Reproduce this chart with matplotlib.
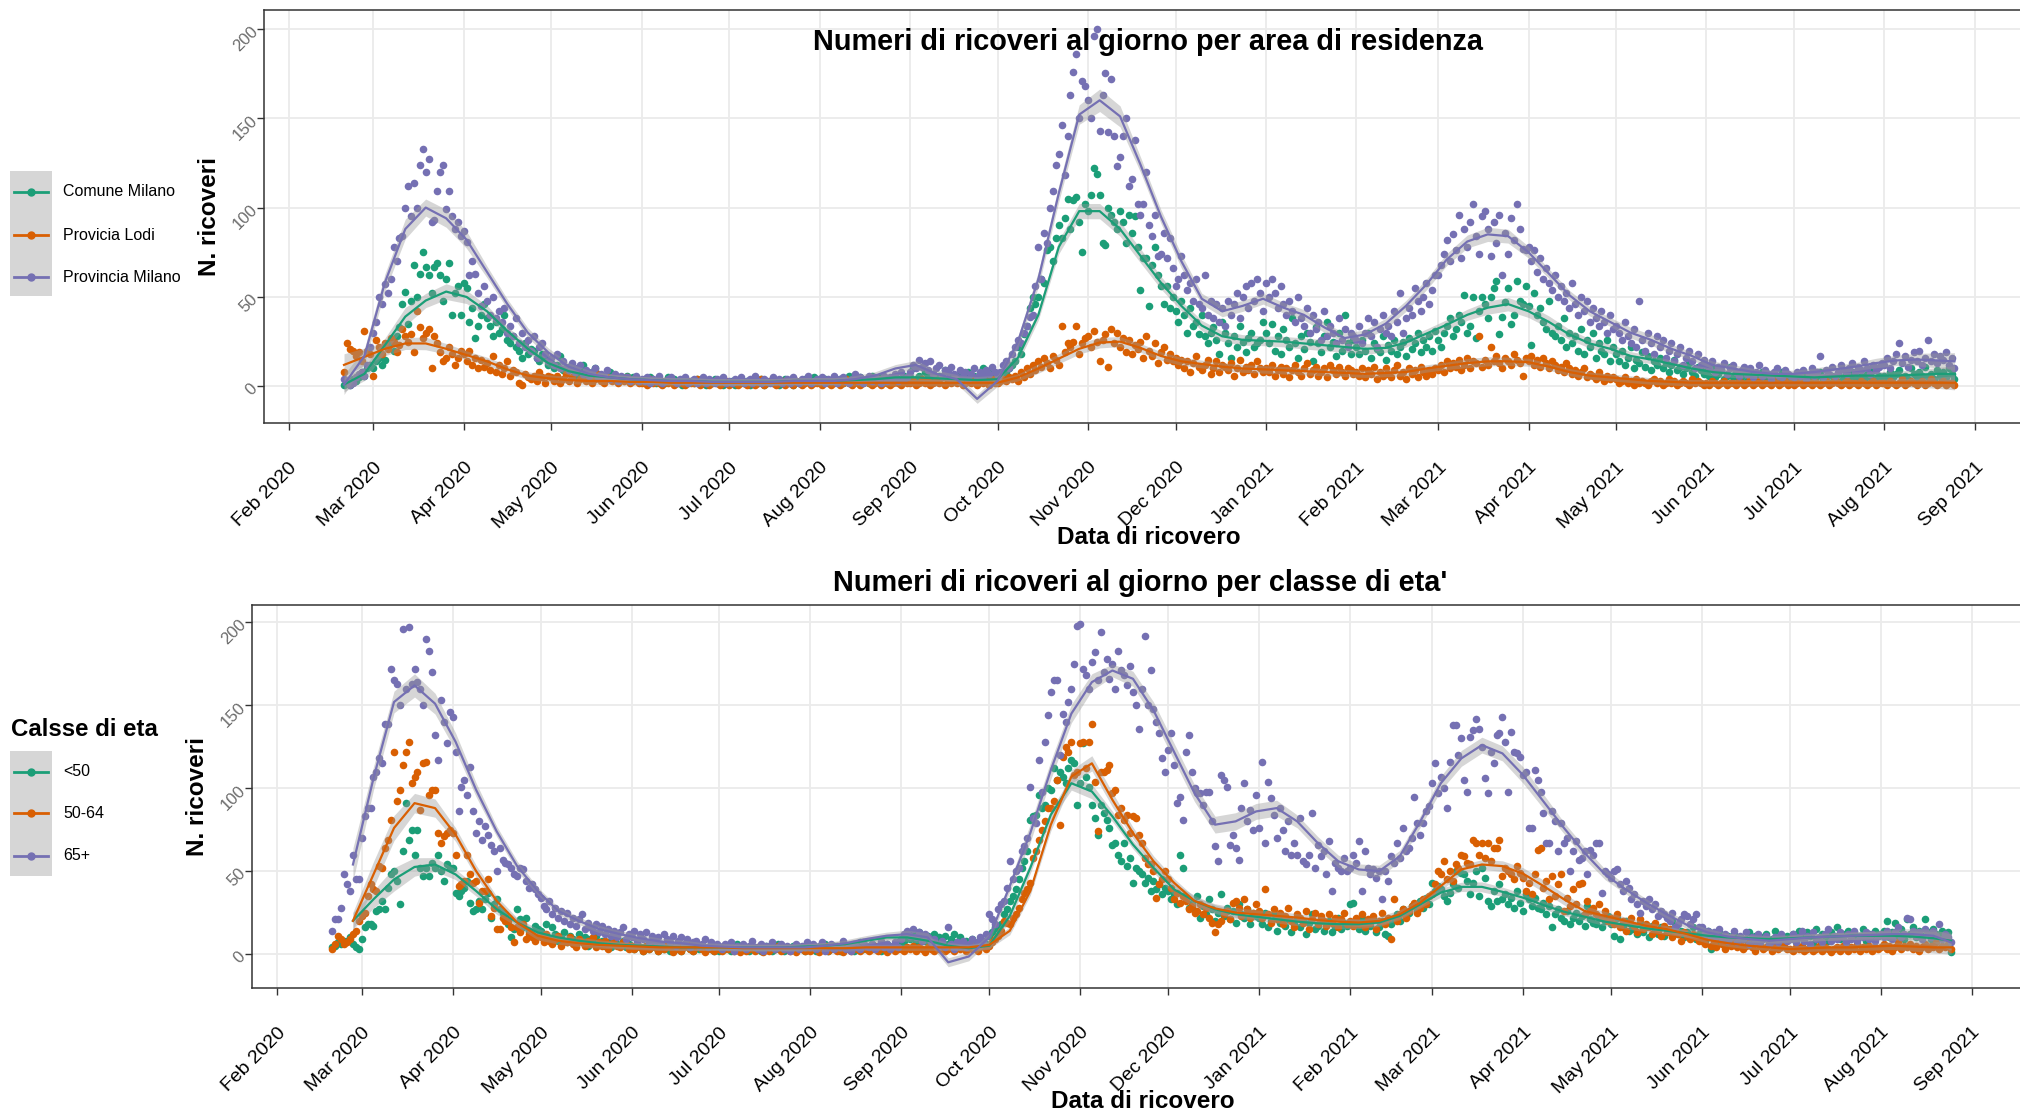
import numpy as np
import pandas as pd
import matplotlib
matplotlib.use('Agg')
import matplotlib.pyplot as plt
import matplotlib.dates as mdates
from matplotlib.patches import Rectangle

plt.rcParams['font.family'] = ['Liberation Sans', 'DejaVu Sans']

# daily counts, one block per month (first block starts 2020-02-20, last ends 2021-08-25)
area_labels = ['Comune Milano', 'Provicia Lodi', 'Provincia Milano']
age_labels = ['<50', '50-64', '65+']
colors = ['#1B9E77', '#D95F02', '#7570B3']

comune_milano = """1 2 1 4 3 5 8 6 10 12 |
10 14 16 12 15 22 25 20 28 33 46 53 35 48 68 50 63 75 67 62 52 67 69 62 48 60 69 40 52 56 40 |
58 55 36 44 27 34 40 46 38 34 28 36 30 32 40 26 24 28 22 20 16 24 18 21 20 16 14 18 16 12 |
13 10 12 17 9 8 11 10 7 6 9 12 6 5 8 10 7 6 4 5 8 6 4 3 5 4 6 3 5 4 3 |
3 4 2 5 3 2 4 3 2 5 3 4 2 3 1 4 2 3 2 4 3 2 1 3 2 4 2 3 1 2 |
2 3 1 2 4 2 3 1 2 3 2 4 1 2 3 2 3 1 2 4 3 2 1 3 2 2 4 3 2 5 3 |
3 2 4 3 2 5 3 4 2 3 6 4 3 2 5 3 4 2 6 3 4 5 3 2 4 3 5 4 3 6 4 |
5 10 4 6 3 8 5 4 7 3 6 5 9 4 6 5 3 7 6 4 8 5 6 4 7 10 6 8 5 7 |
4 6 5 8 10 12 14 22 18 29 34 44 50 46 50 60 58 76 78 70 83 90 83 94 105 88 104 106 92 75 102 |
98 107 122 119 107 80 79 100 96 92 88 98 92 80 96 86 95 78 54 72 72 45 68 78 62 56 46 56 44 50 |
42 36 48 40 30 44 34 36 29 40 28 24 30 33 26 18 36 30 24 16 28 22 34 25 19 27 30 22 24 26 36 |
30 24 35 20 28 18 32 26 22 38 24 16 28 21 30 25 14 33 24 19 28 36 22 25 17 30 20 40 24 18 26 |
22 18 26 20 30 16 24 21 19 28 15 23 20 26 18 22 25 17 27 21 24 30 19 26 22 28 20 31 |
26 22 30 34 38 28 32 40 36 51 30 34 50 27 42 50 46 38 50 55 59 29 39 47 55 35 40 59 48 46 56 |
45 23 52 40 44 36 32 48 30 28 34 26 38 22 30 24 28 20 32 18 26 22 30 16 24 20 18 26 14 22 |
18 14 20 12 16 22 10 15 13 19 11 17 9 14 12 16 10 13 8 12 15 9 11 7 10 13 8 6 11 9 7 |
8 6 10 5 7 9 4 6 11 5 8 4 6 7 3 9 5 6 4 8 5 7 3 6 4 5 8 4 6 3 |
4 6 3 5 7 4 5 3 6 8 4 5 2 6 4 7 3 5 6 4 8 5 3 6 4 7 5 9 4 6 5 |
6 4 8 5 7 9 5 6 4 10 7 5 8 6 11 5 7 4 9 6 8 5 10 7 4"""

provicia_lodi = """8 24 21 20 17 19 14 31 20 18 |
6 26 22 18 24 21 27 25 19 23 32 28 25 29 19 42 33 27 30 32 10 28 24 19 14 16 22 18 12 16 20 |
18 14 20 12 16 10 15 11 13 9 17 8 12 7 10 14 6 9 8 2 1 7 5 4 6 3 8 5 2 6 |
5 3 6 2 4 7 3 5 8 2 4 6 3 5 2 4 7 3 2 5 4 3 6 2 4 3 5 2 3 4 2 |
2 3 1 4 2 3 2 1 3 2 4 1 2 3 2 1 3 2 2 4 1 2 3 1 2 3 2 1 2 3 |
1 2 3 1 2 2 1 3 2 1 2 4 1 2 3 2 1 2 3 1 2 2 1 3 2 1 2 3 1 2 2 |
2 1 3 2 1 2 3 1 2 4 2 1 3 2 1 2 3 2 1 2 4 1 3 2 1 2 3 2 1 3 2 |
2 3 1 2 4 2 3 1 2 3 2 5 1 3 2 4 2 3 1 2 3 2 4 1 3 2 3 1 4 2 |
2 3 4 3 5 4 6 3 8 5 10 7 12 9 14 11 16 13 10 17 15 12 34 19 24 22 25 34 18 24 27 |
28 22 31 25 14 26 29 11 32 24 30 22 27 19 26 18 23 21 25 16 28 20 17 24 13 19 22 15 18 14 |
16 12 15 10 14 8 13 17 11 9 12 15 7 10 14 8 12 11 9 13 6 10 15 8 11 9 12 7 14 10 8 |
10 8 12 6 9 11 7 10 5 9 12 8 6 10 13 7 9 11 6 8 10 5 12 9 7 11 8 6 10 9 7 |
8 6 10 5 9 7 11 4 8 6 10 7 5 9 12 6 8 4 10 7 9 5 11 8 6 9 7 10 |
9 12 8 14 10 13 11 15 9 12 16 10 14 13 28 11 15 12 22 14 17 13 10 16 14 12 18 15 13 6 16 |
14 17 12 15 11 16 13 10 14 12 9 11 8 13 10 7 9 6 8 10 5 7 6 4 8 5 3 6 4 5 |
4 2 3 5 2 3 1 4 2 3 2 1 3 4 2 3 1 2 4 2 3 1 2 3 2 1 4 2 3 2 1 |
2 1 3 2 1 2 3 1 2 2 1 3 2 1 2 4 1 2 3 1 2 2 1 3 2 1 2 3 1 2 |
1 2 3 1 2 2 1 3 2 1 2 3 1 2 4 2 1 2 3 1 2 2 1 3 2 1 2 3 1 2 2 |
2 1 3 2 1 2 4 1 2 3 2 1 2 3 1 2 4 2 1 2 3 1 2 2 1"""

provincia_milano = """4 3 1 2 5 7 8 6 12 22 |
30 36 50 46 57 52 60 78 70 83 84 100 112 95 114 100 124 133 120 127 92 93 109 120 124 99 109 95 88 92 84 |
87 81 62 70 63 52 45 56 48 40 50 38 42 36 44 30 34 28 38 24 30 22 26 20 28 16 22 24 18 14 |
16 12 18 10 14 11 9 13 8 10 12 7 9 6 8 10 5 7 6 9 4 5 7 3 6 4 5 3 4 6 3 |
4 3 5 2 4 3 6 2 3 4 5 3 2 4 3 5 2 3 4 2 3 5 2 4 3 2 4 3 5 2 |
3 2 4 3 5 2 3 4 2 6 3 2 4 3 2 5 3 4 2 3 4 2 5 3 2 4 3 6 2 3 4 |
3 5 2 4 3 6 2 4 5 3 2 4 7 3 5 2 4 6 3 5 4 2 6 3 5 4 7 3 8 4 5 |
8 12 10 15 11 13 9 14 7 10 12 6 9 8 11 7 5 9 6 8 4 7 10 5 8 6 9 7 11 8 |
6 8 12 14 10 18 22 26 24 30 34 39 40 56 78 60 86 80 100 109 124 130 146 118 140 163 176 186 150 171 168 |
160 150 196 200 143 163 175 142 172 140 123 128 140 150 112 116 138 102 96 102 120 90 84 96 73 74 86 72 83 66 |
56 60 73 62 54 58 48 60 46 44 62 40 48 38 46 36 44 34 48 40 46 52 38 50 56 44 58 48 60 52 42 |
58 50 60 52 44 56 46 40 48 42 36 50 38 34 44 30 40 32 36 26 42 28 34 30 24 38 26 32 22 30 28 |
26 34 24 30 38 28 36 22 32 40 30 34 28 42 36 52 30 38 44 40 55 48 42 50 58 46 54 62 |
62 68 74 82 70 85 76 96 72 88 78 92 102 84 74 95 98 88 73 92 80 96 62 86 74 94 82 102 88 77 76 |
78 70 76 64 72 60 66 58 54 62 50 56 48 52 44 58 46 40 50 42 48 36 44 38 34 42 36 30 40 32 |
34 30 26 36 28 24 32 22 48 26 20 30 24 18 28 22 26 16 20 24 14 18 22 12 16 20 14 10 18 12 15 |
12 10 14 8 11 9 13 7 10 12 8 6 9 11 7 10 5 8 12 6 9 7 4 8 10 6 5 9 7 6 |
5 8 6 9 4 7 10 6 8 17 5 9 7 11 6 8 12 9 7 10 13 8 11 9 14 10 7 12 9 11 13 |
12 16 10 14 18 24 13 17 11 15 19 14 20 12 16 26 14 18 13 17 15 19 12 16 10"""

under_50 = """4 5 7 6 8 8 10 6 4 3 |
9 16 18 18 17 26 27 32 27 40 48 50 44 30 62 91 69 75 60 75 52 47 52 47 55 52 60 50 44 54 52 |
52 37 35 38 40 44 31 26 27 32 27 33 37 22 30 33 27 25 24 18 10 15 27 21 16 22 14 12 17 15 |
14 11 18 9 16 12 8 10 13 7 11 9 6 12 8 10 5 9 7 11 6 8 5 7 4 9 6 5 8 4 6 |
5 3 6 4 2 5 3 8 4 2 6 3 5 2 4 3 6 2 4 5 3 2 4 3 5 2 4 3 2 4 |
2 4 3 5 2 3 6 2 4 3 2 5 3 4 2 3 5 4 2 3 6 3 2 4 3 5 2 4 3 2 4 |
3 5 2 4 3 6 2 4 5 3 2 6 4 3 5 2 4 7 3 5 4 6 3 5 2 4 6 3 5 4 7 |
6 8 11 9 12 7 13 10 8 11 9 12 7 10 8 11 6 9 12 7 10 5 8 6 9 4 7 5 8 6 |
11 13 16 15 18 24 27 32 35 39 45 52 56 62 81 83 84 96 88 90 100 99 112 105 110 107 103 112 117 115 90 |
103 127 107 101 90 82 72 90 85 81 76 66 67 60 56 67 53 58 43 52 50 48 43 46 38 44 39 42 36 40 |
38 33 36 30 60 52 34 28 31 26 35 22 29 24 33 27 20 25 36 23 28 21 26 19 30 24 22 27 18 25 23 |
22 18 25 16 20 24 14 19 23 17 21 13 18 22 16 20 12 19 24 15 17 21 14 18 20 13 16 22 15 19 17 |
30 31 18 15 22 14 19 17 21 13 16 20 12 11 18 22 24 20 27 23 25 29 30 26 32 28 34 30 |
43 38 41 39 35 32 37 42 50 40 49 48 44 36 43 50 35 52 46 32 29 38 32 42 33 36 30 34 28 38 31 |
26 36 33 29 34 28 27 31 24 29 16 24 27 22 20 26 18 22 25 20 23 17 29 21 19 18 22 16 20 23 |
18 11 22 9 16 20 14 18 15 12 19 13 16 10 17 14 12 16 11 15 13 20 16 12 14 10 13 11 16 9 12 |
12 8 14 3 10 7 13 9 5 11 8 12 6 10 4 9 13 7 11 8 5 10 12 6 9 14 7 10 8 11 |
9 12 7 14 10 8 13 11 6 15 9 12 10 8 13 11 16 9 12 7 14 10 13 9 11 15 8 12 10 14 11 |
12 14 20 10 13 19 11 15 9 21 12 16 10 14 11 21 13 9 15 12 10 14 11 13 1"""

age_50_64 = """3 6 11 9 6 7 9 12 14 20 |
23 25 35 42 39 38 53 52 64 69 81 122 92 99 114 122 128 103 107 110 87 115 116 96 99 99 73 67 71 73 75 |
73 60 41 42 44 60 48 43 44 31 38 38 45 23 28 15 15 22 20 20 16 7 16 13 18 9 12 10 8 11 |
10 7 12 8 6 9 11 5 8 7 10 6 4 9 7 5 8 6 10 4 7 5 8 3 6 9 5 4 7 6 3 |
5 3 6 4 2 5 3 7 4 2 5 3 6 4 1 3 5 2 4 6 3 2 4 5 3 1 4 3 2 5 |
3 2 4 3 5 2 3 1 4 2 3 5 2 4 3 1 3 2 4 3 5 2 3 4 2 3 1 4 3 2 3 |
2 4 3 1 3 5 2 3 4 2 3 1 4 3 2 5 3 2 4 3 2 3 5 2 4 3 1 3 4 2 3 |
3 2 4 3 5 2 4 3 1 4 3 2 5 3 4 2 3 5 2 4 3 6 2 4 3 5 2 4 6 3 |
5 7 9 11 14 20 19 18 22 24 28 33 37 39 43 58 62 69 75 80 88 88 92 105 78 119 125 122 128 108 110 |
127 128 112 128 139 104 74 110 110 111 114 97 99 84 88 81 84 73 83 82 72 67 58 54 54 50 34 42 45 50 |
45 40 33 37 31 35 32 27 29 25 26 30 24 28 22 19 13 18 20 24 26 21 31 32 28 23 33 27 22 25 30 |
26 22 39 24 19 27 21 25 18 23 28 20 16 24 22 19 26 15 21 25 18 23 20 17 24 19 22 16 21 25 18 |
20 17 22 18 24 16 21 19 23 15 20 25 18 22 9 33 20 24 27 22 26 29 31 25 28 33 30 35 |
36 42 50 48 56 45 50 44 54 52 60 59 55 54 69 67 60 67 58 67 56 64 64 69 47 52 50 48 45 53 49 |
46 38 43 36 48 63 64 40 44 33 47 35 42 48 26 34 29 39 30 42 43 24 32 26 28 24 30 22 26 20 |
22 18 24 16 20 14 19 22 17 13 21 15 18 16 12 19 14 11 17 13 15 10 14 12 8 13 11 9 12 10 8 |
8 6 10 5 7 4 9 6 3 7 5 8 4 6 3 5 7 4 2 6 5 3 4 6 2 5 3 4 6 3 |
3 2 4 3 5 2 3 4 2 3 5 2 4 3 1 3 4 2 5 3 2 4 3 6 2 4 3 5 2 4 3 |
4 6 3 5 2 4 7 3 5 4 6 3 5 2 4 6 3 5 4 7 3 5 4 6 3"""

age_65_plus = """14 21 21 28 48 42 38 60 45 45 |
70 83 88 88 107 110 118 115 139 139 172 165 163 150 196 160 197 163 172 164 160 150 190 183 170 132 117 153 140 127 146 |
143 122 86 101 105 96 113 86 73 80 69 77 72 66 62 50 64 57 55 54 52 48 47 52 51 44 40 42 39 36 |
34 29 27 32 24 28 22 26 20 25 18 22 17 21 24 15 19 16 14 18 13 17 12 15 11 14 10 13 16 9 12 |
10 14 8 12 9 13 7 11 8 10 6 12 9 7 11 5 8 10 6 9 4 7 8 5 6 9 4 7 5 6 |
5 3 6 4 7 2 5 4 6 3 5 8 4 3 6 2 5 4 7 3 4 6 3 5 2 4 6 3 5 4 7 |
4 6 3 5 7 2 4 6 3 5 4 8 3 5 2 6 4 3 7 5 4 6 3 5 8 4 6 3 5 7 4 |
9 12 14 11 15 10 13 8 12 10 7 9 6 5 8 4 16 6 3 7 5 8 4 6 9 5 7 10 8 12 |
24 21 18 27 30 32 40 56 45 50 52 62 65 70 101 82 79 117 98 128 144 158 165 165 120 145 140 152 160 175 198 |
199 172 168 160 176 182 165 194 170 178 166 175 160 183 171 168 162 174 158 150 136 160 192 150 171 148 140 133 118 110 |
123 133 114 91 95 81 122 132 110 100 97 97 90 98 98 80 65 56 108 105 101 66 72 64 57 88 103 80 87 75 96 |
76 116 67 104 94 84 70 88 75 62 80 60 67 60 82 56 54 60 85 52 66 59 62 48 68 38 55 52 50 58 50 |
52 60 55 68 38 62 52 48 51 46 50 33 50 44 59 55 67 58 76 62 64 70 95 79 72 79 86 89 |
103 115 97 107 100 88 116 138 138 120 130 105 98 131 135 142 136 125 106 97 122 115 132 133 143 128 98 134 122 121 119 |
108 110 76 76 111 105 98 85 67 67 86 80 62 79 67 70 50 62 68 57 58 62 48 63 60 67 67 37 50 48 |
46 50 51 42 38 44 40 33 36 30 25 32 29 33 27 30 23 26 24 22 20 25 16 18 21 24 23 18 21 24 16 |
16 12 14 10 13 11 15 9 12 8 10 14 7 11 9 13 6 10 8 12 7 9 11 6 8 10 7 12 9 8 |
9 12 7 10 14 8 11 6 13 9 10 7 12 15 8 11 9 13 10 7 12 9 14 8 11 10 13 9 12 8 11 |
12 10 14 11 9 13 16 10 12 22 21 14 11 13 9 15 12 10 14 11 18 9 12 10 7"""

# smoothed curves, one value every 7 days
top_smooth_start = '2020-02-20'
bottom_smooth_start = '2020-02-27'
smooth_comune = [1, 7, 23, 39, 48, 53, 50, 42, 31, 21, 13, 8.5, 6, 5, 4, 3.5, 3, 3, 2.5, 2.5,
                 2.5, 2.5, 3, 3, 3, 3.5, 4, 5, 5, 4.5, 4, 3.5, 4, 16, 40, 78, 98, 98, 88, 73,
                 58, 45, 34, 28, 26, 25.5, 25, 24, 23, 22, 21, 21.5, 24.5, 29.5, 34.5, 40, 44, 46, 42, 36,
                 29, 24, 21, 17, 15, 12.5, 10, 8, 7, 6.5, 6, 5.5, 5, 5.5, 6, 6, 6, 6.5, 7, 7]
smooth_lodi = [12, 16.5, 21, 24, 24, 21, 17.5, 14, 9.5, 6, 4.5, 3.5, 3, 3, 2.5, 2.5, 2, 2, 2, 2,
               2, 2, 2, 2, 2, 2, 2, 2, 2, 2, 2, 2, 2, 5, 10, 15.5, 21, 24.5, 25, 21.5,
               17, 14, 12.5, 11, 10, 9.5, 9, 8.5, 8, 7.5, 7, 7.5, 8, 10, 11.5, 13, 14, 14, 13.5, 11,
               8, 6, 5, 4, 3, 2.5, 2, 2, 2, 2, 2, 2, 2, 2, 2, 2, 2, 2, 2, 2]
smooth_provincia = [1, 17, 58, 88, 100, 94, 82, 64, 46, 30, 19, 11, 7, 5, 4, 3.5, 3, 3, 2.5, 2.5,
                    2.5, 2.5, 3, 3, 3, 4, 6, 10, 12, 7, 4, -7, 3, 25, 60, 108, 152, 160, 151, 124,
                    95, 70, 49, 42, 45, 49, 44, 40, 33, 27, 29, 35, 45, 57, 71, 81, 85, 84, 75, 63,
                    51, 42, 36, 30, 26, 21, 17, 12, 10, 8, 7, 7, 8, 9.5, 11, 13, 14.5, 15, 14.5, 14]
smooth_under_50 = [20, 33, 45, 52.5, 54, 48, 38, 27, 19, 13, 10, 8, 6.5, 5.5, 5, 4.5, 4, 4, 4, 4,
                   4, 4, 4.5, 5, 6, 8, 10, 10, 8, 5, 3.5, 5, 23, 52, 84, 103, 98, 83, 66, 52,
                   39, 32, 27, 24, 22.5, 21, 19.5, 18.5, 18, 18, 19, 23, 30, 37, 40.5, 40.5, 37.5, 34, 29.5, 25.5,
                   22.5, 19.5, 17.5, 15.5, 14, 12.5, 11, 10, 9.5, 9, 9.5, 10, 10.5, 11, 11, 11, 10.5, 9.5, 8]
smooth_50_64 = [20, 48, 76, 91, 88, 72, 50, 32, 19, 11, 8, 6.5, 5.5, 5, 4.5, 4, 4, 4, 4, 3.5,
                3.5, 3.5, 3.5, 3.5, 3.5, 4, 4, 4, 4, 4, 4, 5.5, 14, 38, 78, 107, 115, 93, 73, 56,
                43, 32, 27.5, 25, 24, 23, 22, 20.5, 19.5, 19, 20, 24, 31, 41, 51, 54, 53, 48.5, 41, 33,
                26, 23, 20, 17, 15, 12, 8.5, 6.5, 5, 4, 3, 3.5, 4, 4, 4.5, 5, 4.5, 4, 4]
smooth_65_plus = [54, 106, 152, 162, 151, 128, 99, 74, 53, 38, 26, 20, 15, 12, 9.5, 7.5, 6.5, 5, 4.5, 4,
                  4, 4, 4, 5, 6.5, 9, 11, 12, 10, -5, -1.5, 10, 41, 73, 111, 145, 164, 171, 166, 147,
                  122, 97, 78, 80, 86, 88, 80, 67, 56, 51, 50, 59, 80, 103, 118, 126, 121, 108, 92, 76,
                  61, 48, 39, 31, 24, 17.5, 13, 10.5, 9, 8, 9, 10, 10.5, 11, 11.5, 12, 12, 11, 7]

first_day = pd.Timestamp('2020-02-20')
last_day = pd.Timestamp('2021-08-25')
seg_starts = [first_day] + list(pd.date_range('2020-03-01', '2021-08-01', freq='MS'))
seg_ends = seg_starts[1:] + [last_day + pd.Timedelta(days=1)]


def daily(text):
    dates, vals = [], []
    for s, e, block in zip(seg_starts, seg_ends, text.split('|')):
        nums = [float(v) for v in block.split()][:(e - s).days]
        dates += [s + pd.Timedelta(days=i) for i in range(len(nums))]
        vals += nums
    return pd.Series(vals, index=pd.DatetimeIndex(dates))


def knots(start, vals):
    d = [pd.Timestamp(start) + pd.Timedelta(days=7 * k) for k in range(len(vals))]
    d[-1] = min(d[-1], last_day)
    return pd.DatetimeIndex(d)


def band(pts, kd, kv):
    kx = mdates.date2num(kd)
    px = mdates.date2num(pts.index)
    resid = pts.values - np.interp(px, kx, kv)
    half = []
    for x in kx:
        m = np.abs(px - x) <= 8
        sd = resid[m].std() if m.sum() > 2 else 2.0
        edge = min(x - kx[0], kx[-1] - x)
        half.append((0.22 * sd + 1.6) * (1 + 1.2 * np.exp(-edge / 12)))
    return np.array(half)


W, H = 2020, 1114
fig = plt.figure(figsize=(W / 100, H / 100), dpi=100)


def px_axes(l, t, r, b):
    return fig.add_axes([l / W, 1 - b / H, (r - l) / W, (b - t) / H])


top = px_axes(263.5, 10, 2035, 423)
bot = px_axes(251.5, 605, 2032, 988)

panels = [
    (top, [comune_milano, provicia_lodi, provincia_milano],
     [smooth_comune, smooth_lodi, smooth_provincia], top_smooth_start),
    (bot, [under_50, age_50_64, age_65_plus],
     [smooth_under_50, smooth_50_64, smooth_65_plus], bottom_smooth_start),
]

span = last_day - first_day
xlo, xhi = first_day - span * 0.05, last_day + span * 0.05
month_ticks = pd.date_range('2020-02-01', '2021-09-01', freq='MS')

for ax, texts, smooths, sstart in panels:
    series = [daily(t) for t in texts]
    for s, c in zip(series, colors):
        ax.scatter(s.index, s.values, s=30, color=c, linewidths=0, zorder=2)
    for s, sv, c in zip(series, smooths, colors):
        kd = knots(sstart, sv)
        kv = np.array(sv, dtype=float)
        h = band(s, kd, kv)
        ax.fill_between(kd, kv - h, kv + h, color='#999999', alpha=0.4, linewidth=0, zorder=3)
        ax.plot(kd, kv, color=c, lw=1.6, zorder=4)
    ax.set_xlim(xlo, xhi)
    ax.set_ylim(-20.5, 210.5)
    ax.set_xticks(month_ticks)
    ax.xaxis.set_major_formatter(mdates.DateFormatter('%b %Y'))
    ax.set_yticks([0, 50, 100, 150, 200])
    ax.grid(True, color='#EBEBEB', lw=1.3, zorder=0)
    ax.set_axisbelow(True)
    for sp in ax.spines.values():
        sp.set_color('#333333')
        sp.set_linewidth(1.1)
    ax.tick_params(axis='both', length=5, width=1, color='#333333')
    ax.tick_params(axis='x', labelsize=14, labelcolor='black', pad=21)
    ax.tick_params(axis='y', labelsize=12, labelcolor='#6b6b6b', pad=1)
    plt.setp(ax.get_xticklabels(), rotation=45, ha='right', va='top', rotation_mode='anchor')
    plt.setp(ax.get_yticklabels(), rotation=45, ha='right', va='center', rotation_mode='anchor')

# overlay for titles, axis labels and legends (pixel coordinates)
ov = fig.add_axes([0, 0, 1, 1])
ov.set_xlim(0, W)
ov.set_ylim(H, 0)
ov.axis('off')
ov.patch.set_visible(False)

ov.text(1148, 42, 'Numeri di ricoveri al giorno per area di residenza', ha='center', va='center',
        fontsize=20.8, fontweight='bold')
ov.text(1140, 583, "Numeri di ricoveri al giorno per classe di eta'", ha='center', va='center',
        fontsize=20.8, fontweight='bold')
ov.text(1149, 537, 'Data di ricovero', ha='center', va='center', fontsize=17.5, fontweight='bold')
ov.text(1143, 1101, 'Data di ricovero', ha='center', va='center', fontsize=17.5, fontweight='bold')
ov.text(209, 217, 'N. ricoveri', ha='center', va='center', rotation=90, fontsize=17.5, fontweight='bold')
ov.text(198, 797, 'N. ricoveri', ha='center', va='center', rotation=90, fontsize=17.5, fontweight='bold')


def legend(box_top, box_bottom, rows, labels):
    ov.add_patch(Rectangle((10, box_top), 42, box_bottom - box_top, color='#D6D6D6', lw=0))
    for y, lab, c in zip(rows, labels, colors):
        ov.plot([14, 48], [y, y], color=c, lw=2)
        ov.plot([31], [y], 'o', color=c, ms=5)
        ov.text(63, y, lab, ha='left', va='center', fontsize=11.5)


legend(171, 296, [192, 235, 277], area_labels)
ov.text(11, 729, 'Calsse di eta', ha='left', va='center', fontsize=17.3, fontweight='bold')
legend(751, 876, [772, 813, 856], age_labels)

fig.savefig('out.png', dpi=100)
